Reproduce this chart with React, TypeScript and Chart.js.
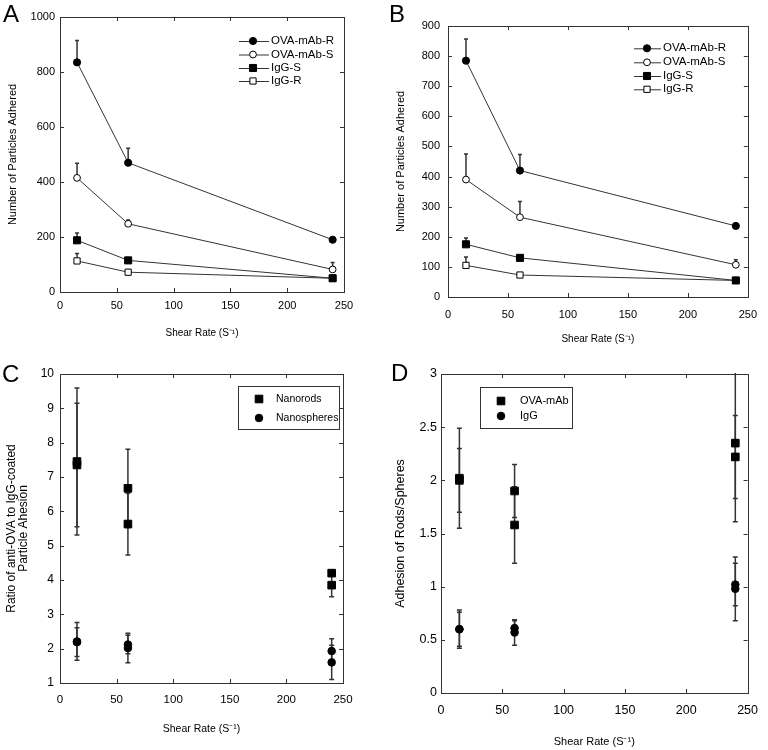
import React, { useEffect, useRef } from "react";
import { Chart, registerables } from "chart.js";
Chart.register(...registerables);

const FONT = "'Liberation Sans', Arial, Helvetica, sans-serif";

// ---------------- data ----------------
const shearRates = [15, 60, 240];
const xTicks = [0, 50, 100, 150, 200, 250];

// Panel A
const abLabels = ["OVA-mAb-R", "OVA-mAb-S", "IgG-S", "IgG-R"];
const aOvaR = [835, 470, 190];
const aOvaRErr = [80, 53, 0];
const aOvaS = [415, 248, 82];
const aOvaSErr = [53, 14, 25];
const aIgGS = [188, 115, 50];
const aIgGSErr = [27, 0, 0];
const aIgGR = [113, 72, 50];
const aIgGRErr = [27, 8, 0];
const aYTicks = [0, 200, 400, 600, 800, 1000];

// Panel B
const bOvaR = [785, 420, 236];
const bOvaRErr = [72, 53, 0];
const bOvaS = [390, 265, 107];
const bOvaSErr = [85, 52, 17];
const bIgGS = [175, 130, 55];
const bIgGSErr = [21, 0, 0];
const bIgGR = [105, 73, 55];
const bIgGRErr = [28, 7, 0];
const bYTicks = [0, 100, 200, 300, 400, 500, 600, 700, 800, 900];

// Panel C
const cdShearRates = [15, 15, 60, 60, 240, 240];
const cLabels = ["Nanorods", "Nanospheres"];
const cNanorods = [7.45, 7.35, 6.67, 5.63, 4.2, 3.85];
const cNanorodsErr = [2.14, 1.8, 1.14, 0.9, 0.08, 0.34];
const cNanospheres = [2.21, 2.19, 2.12, 2.02, 1.93, 1.6];
const cNanospheresErr = [0.55, 0.42, 0.27, 0.43, 0.36, 0.5];
const cYTicks = [1, 2, 3, 4, 5, 6, 7, 8, 9, 10];

// Panel D
const dLabels = ["OVA-mAb", "IgG"];
const dOva = [2.02, 2.0, 1.9, 1.58, 2.35, 2.22];
const dOvaErr = [0.47, 0.3, 0.25, 0.36, 0.74, 0.39];
const dIgG = [0.6, 0.6, 0.61, 0.57, 1.02, 0.98];
const dIgGErr = [0.18, 0.16, 0.07, 0.12, 0.2, 0.3];
const dYTicks = [0, 0.5, 1, 1.5, 2, 2.5, 3];

const xTitle = "Shear Rate (S\u207B\u00B9)";

// ---------------- plugins ----------------
function drawMarker(ctx: CanvasRenderingContext2D, style: string, r: number, filled: boolean, x: number, y: number) {
  ctx.save();
  ctx.beginPath();
  if (style === "rect") {
    const s = Math.SQRT1_2 * r;
    ctx.rect(x - s, y - s, 2 * s, 2 * s);
  } else {
    ctx.arc(x, y, r, 0, Math.PI * 2);
  }
  ctx.fillStyle = filled ? "#000" : "#fff";
  ctx.fill();
  ctx.lineWidth = 1;
  ctx.strokeStyle = "#000";
  ctx.stroke();
  ctx.restore();
}

const framePlugin = {
  id: "frameTicks",
  afterDatasetsDraw(chart: any, _a: any, opts: any) {
    const { ctx, chartArea: ca, scales } = chart;
    const L = opts.len ?? 4;
    ctx.save();
    ctx.strokeStyle = opts.color ?? "#333";
    ctx.lineWidth = 1;
    ctx.strokeRect(Math.round(ca.left) + 0.5, Math.round(ca.top) + 0.5, Math.round(ca.right - ca.left), Math.round(ca.bottom - ca.top));
    ctx.beginPath();
    for (const t of scales.x.ticks) {
      const px = Math.round(scales.x.getPixelForValue(t.value)) + 0.5;
      if (px <= ca.left + 1 || px >= ca.right - 1) continue;
      ctx.moveTo(px, ca.bottom); ctx.lineTo(px, ca.bottom - L);
      ctx.moveTo(px, ca.top); ctx.lineTo(px, ca.top + L);
    }
    for (const t of scales.y.ticks) {
      const py = Math.round(scales.y.getPixelForValue(t.value)) + 0.5;
      if (py <= ca.top + 1 || py >= ca.bottom - 1) continue;
      ctx.moveTo(ca.left, py); ctx.lineTo(ca.left + L, py);
      ctx.moveTo(ca.right, py); ctx.lineTo(ca.right - L, py);
    }
    ctx.stroke();
    ctx.restore();
  },
};

const errorBarPlugin = {
  id: "errorBars",
  beforeDatasetsDraw(chart: any, _a: any, opts: any) {
    const { ctx, chartArea: ca, scales } = chart;
    ctx.save();
    ctx.beginPath();
    ctx.rect(ca.left, ca.top - 1, ca.right - ca.left, ca.bottom - ca.top + 1);
    ctx.clip();
    ctx.strokeStyle = opts.color ?? "#333";
    ctx.lineWidth = opts.width ?? 1.5;
    const cap = opts.cap ?? 2;
    chart.data.datasets.forEach((ds: any, i: number) => {
      const meta = chart.getDatasetMeta(i);
      meta.data.forEach((el: any, j: number) => {
        const e = ds.errors ? ds.errors[j] : 0;
        if (!e) return;
        const v = ds.data[j].y;
        const x = el.x;
        const yTop = scales.y.getPixelForValue(v + e);
        const yBot = opts.mode === "both" ? scales.y.getPixelForValue(v - e) : el.y;
        ctx.beginPath();
        ctx.moveTo(x, yTop); ctx.lineTo(x, yBot);
        ctx.moveTo(x - cap, yTop); ctx.lineTo(x + cap, yTop);
        if (opts.mode === "both") { ctx.moveTo(x - cap, yBot); ctx.lineTo(x + cap, yBot); }
        ctx.stroke();
      });
    });
    ctx.restore();
  },
};

const legendPlugin = {
  id: "boxLegend",
  afterDraw(chart: any, _a: any, o: any) {
    const { ctx } = chart;
    ctx.save();
    if (o.box) {
      ctx.strokeStyle = "#333";
      ctx.lineWidth = 1;
      ctx.strokeRect(o.box[0] + 0.5, o.box[1] + 0.5, o.box[2], o.box[3]);
    }
    ctx.font = `${o.fontSize}px ${FONT}`;
    ctx.textBaseline = "middle";
    ctx.textAlign = "left";
    chart.data.datasets.forEach((ds: any, i: number) => {
      const y = o.rows[i];
      if (o.line) {
        ctx.beginPath();
        ctx.strokeStyle = "#333";
        ctx.lineWidth = 1;
        ctx.moveTo(o.line[0], y + 0.5);
        ctx.lineTo(o.line[1], y + 0.5);
        ctx.stroke();
      }
      drawMarker(ctx, ds.pointStyle, ds.pointRadius, ds.pointBackgroundColor === "#000", o.markerX, y);
      ctx.fillStyle = "#000";
      ctx.fillText(ds.label, o.textX, y);
    });
    ctx.restore();
  },
};

// ---------------- panels ----------------
type Series = { label: string; x: number[]; y: number[]; err: number[]; style: string; radius: number; filled: boolean };

type Spec = {
  letter: string; letterPos: [number, number];
  left: number; top: number; width: number; height: number;
  area: { left: number; top: number; right: number; bottom: number };
  yMin: number; yMax: number; yTicks: number[];
  yTitle: string | string[]; yTitleSize: number; yTitlePad: number; yTitleLH?: number;
  yTickSize: number; yTickPad: number;
  xTickSize: number; xTickPad: number; xTitleSize: number; xTitlePad: number;
  showLine: boolean; errMode: string; cap: number;
  series: Series[]; legend: any;
};

function buildConfig(p: Spec): any {
  return {
    type: "line",
    data: {
      datasets: p.series.map((s) => ({
        label: s.label,
        data: s.x.map((x, i) => ({ x, y: s.y[i] })),
        errors: s.err,
        showLine: p.showLine,
        borderColor: "#333",
        borderWidth: 1,
        pointStyle: s.style,
        pointRadius: s.radius,
        pointHoverRadius: s.radius,
        pointBackgroundColor: s.filled ? "#000" : "#fff",
        pointBorderColor: "#000",
        pointBorderWidth: 1,
        tension: 0,
        fill: false,
      })),
    },
    options: {
      responsive: false,
      maintainAspectRatio: false,
      animation: false,
      events: [],
      layout: { padding: { left: 0, top: p.area.top, right: p.width - p.area.right, bottom: 0 } },
      plugins: {
        legend: { display: false },
        tooltip: { enabled: false },
        frameTicks: { len: 4, color: "#333" },
        errorBars: { mode: p.errMode, cap: p.cap, color: "#333", width: 1.5 },
        boxLegend: p.legend,
      },
      scales: {
        x: {
          type: "linear",
          min: 0,
          max: 250,
          afterBuildTicks: (s: any) => { s.ticks = xTicks.map((v) => ({ value: v })); },
          afterFit: (s: any) => { s.height = p.height - p.area.bottom; },
          grid: { display: false, drawTicks: false },
          border: { display: false },
          ticks: { font: { family: FONT, size: p.xTickSize }, color: "#000", padding: p.xTickPad, maxRotation: 0, autoSkip: false },
          title: { display: true, text: xTitle, color: "#000", font: { family: FONT, size: p.xTitleSize }, padding: { top: 0, bottom: p.xTitlePad } },
        },
        y: {
          type: "linear",
          min: p.yMin,
          max: p.yMax,
          afterBuildTicks: (s: any) => { s.ticks = p.yTicks.map((v) => ({ value: v })); },
          afterFit: (s: any) => { s.width = p.area.left; },
          grid: { display: false, drawTicks: false },
          border: { display: false },
          ticks: { font: { family: FONT, size: p.yTickSize }, color: "#000", padding: p.yTickPad, autoSkip: false, callback: (v: any) => String(v) },
          title: {
            display: true, text: p.yTitle, color: "#000",
            font: { family: FONT, size: p.yTitleSize, lineHeight: p.yTitleLH ?? 1.2 },
            padding: { top: p.yTitlePad, bottom: 0 },
          },
        },
      },
    },
    plugins: [errorBarPlugin, framePlugin, legendPlugin],
  };
}

const ab = (y: number[][], e: number[][]): Series[] => [
  { label: abLabels[0], x: shearRates, y: y[0], err: e[0], style: "circle", radius: 3.6, filled: true },
  { label: abLabels[1], x: shearRates, y: y[1], err: e[1], style: "circle", radius: 3.4, filled: false },
  { label: abLabels[2], x: shearRates, y: y[2], err: e[2], style: "rect", radius: 5, filled: true },
  { label: abLabels[3], x: shearRates, y: y[3], err: e[3], style: "rect", radius: 4.4, filled: false },
];

const specs: Spec[] = [
  {
    letter: "A", letterPos: [3, 2],
    left: 0, top: 0, width: 384, height: 345,
    area: { left: 60, top: 17, right: 344, bottom: 292 },
    yMin: 0, yMax: 1000, yTicks: aYTicks,
    yTitle: "Number of Particles Adhered", yTitleSize: 11, yTitlePad: 6,
    yTickSize: 11, yTickPad: 5, xTickSize: 11, xTickPad: 7.5, xTitleSize: 10, xTitlePad: 6,
    showLine: true, errMode: "up", cap: 2,
    series: ab([aOvaR, aOvaS, aIgGS, aIgGR], [aOvaRErr, aOvaSErr, aIgGSErr, aIgGRErr]),
    legend: { line: [239, 269], markerX: 253, textX: 271, rows: [41, 54.5, 68, 81], fontSize: 11.5 },
  },
  {
    letter: "B", letterPos: [389, 2],
    left: 384, top: 0, width: 384, height: 345,
    area: { left: 64, top: 26, right: 364, bottom: 297 },
    yMin: 0, yMax: 900, yTicks: bYTicks,
    yTitle: "Number of Particles Adhered", yTitleSize: 11, yTitlePad: 10,
    yTickSize: 11, yTickPad: 8, xTickSize: 11, xTickPad: 11, xTitleSize: 10, xTitlePad: 0,
    showLine: true, errMode: "up", cap: 2,
    series: ab([bOvaR, bOvaS, bIgGS, bIgGR], [bOvaRErr, bOvaSErr, bIgGSErr, bIgGRErr]),
    legend: { line: [250, 277], markerX: 263, textX: 279, rows: [48.3, 62.3, 76, 89.3], fontSize: 11.5 },
  },
  {
    letter: "C", letterPos: [2, 362],
    left: 0, top: 345, width: 384, height: 405,
    area: { left: 60, top: 29, right: 343, bottom: 338 },
    yMin: 1, yMax: 10, yTicks: cYTicks,
    yTitle: ["Ratio of anti-OVA to IgG-coated", "Particle Ahesion"], yTitleSize: 12, yTitlePad: 5.5, yTitleLH: 1,
    yTickSize: 12, yTickPad: 6, xTickSize: 11.5, xTickPad: 10, xTitleSize: 10.5, xTitlePad: 14.7,
    showLine: false, errMode: "both", cap: 2.5,
    series: [
      { label: cLabels[0], x: cdShearRates, y: cNanorods, err: cNanorodsErr, style: "rect", radius: 5.4, filled: true },
      { label: cLabels[1], x: cdShearRates, y: cNanospheres, err: cNanospheresErr, style: "circle", radius: 3.8, filled: true },
    ],
    legend: { box: [238, 41, 101, 43], markerX: 259, textX: 276, rows: [54, 73], fontSize: 10.5 },
  },
  {
    letter: "D", letterPos: [391, 361],
    left: 384, top: 345, width: 384, height: 405,
    area: { left: 57, top: 29, right: 372, bottom: 348 },
    yMin: 0, yMax: 3, yTicks: dYTicks,
    yTitle: "Adhesion of Rods/Spheres", yTitleSize: 12.5, yTitlePad: 9,
    yTickSize: 12.5, yTickPad: 4, xTickSize: 12.5, xTickPad: 10, xTitleSize: 11, xTitlePad: 1.4,
    showLine: false, errMode: "both", cap: 2.5,
    series: [
      { label: dLabels[0], x: cdShearRates, y: dOva, err: dOvaErr, style: "rect", radius: 5.4, filled: true },
      { label: dLabels[1], x: cdShearRates, y: dIgG, err: dIgGErr, style: "circle", radius: 3.8, filled: true },
    ],
    legend: { box: [96, 42, 92, 41], markerX: 117, textX: 136, rows: [56, 71], fontSize: 11 },
  },
];

function Panel({ spec }: { spec: Spec }) {
  const ref = useRef<HTMLCanvasElement>(null);
  useEffect(() => {
    const chart = new Chart(ref.current as HTMLCanvasElement, buildConfig(spec));
    return () => chart.destroy();
  }, [spec]);
  return (
    <>
      <canvas
        ref={ref}
        width={spec.width}
        height={spec.height}
        style={{ position: "absolute", left: spec.left, top: spec.top, width: spec.width, height: spec.height }}
      />
      <div
        style={{
          position: "absolute", left: spec.letterPos[0], top: spec.letterPos[1],
          fontFamily: FONT, fontSize: 24, lineHeight: "24px", color: "#000",
        }}
      >
        {spec.letter}
      </div>
    </>
  );
}

export default function App() {
  return (
    <div style={{ position: "absolute", left: 0, top: 0, width: 768, height: 750, background: "#fff", overflow: "hidden" }}>
      {specs.map((s) => (
        <Panel key={s.letter} spec={s} />
      ))}
    </div>
  );
}
